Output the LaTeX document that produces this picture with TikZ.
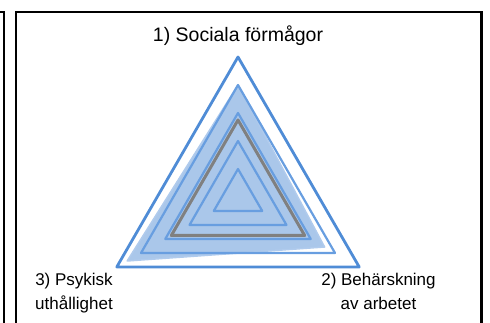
\documentclass[tikz,border=0pt]{standalone}
\usepackage{fontspec}
\setmainfont{Liberation Sans}
\usepackage{tikz}
\usetikzlibrary{calc,positioning}

\definecolor{bleu}{RGB}{79,140,214}
\definecolor{bleuclair}{RGB}{170,199,234}
\definecolor{bleumoyen}{RGB}{104,158,224}
\definecolor{gris}{RGB}{128,128,128}

\begin{document}
\begin{tikzpicture} [x=1pt,y=1pt]
%styles : grille du diagramme, série et étiquettes
\tikzset{grille/.style={bleumoyen,line width=2.2pt,line join=round}}
\tikzset{serie/.style={fill=bleuclair,draw=bleu!45,line width=1.5pt,line join=round}}
\tikzset{etiquette/.style={font=\fontsize{17}{24}\selectfont,align=center,inner sep=0pt,anchor=base}}

\useasboundingbox (0,0) rectangle (490,323);
\clip (0,0) rectangle (490,323);

%cadres
\draw[line width=2.2pt] (-5,311.2) -- (3.8,311.2) -- (3.8,-5);
\draw[line width=2.5pt] (15.8,-5) -- (15.8,311.2) -- (481.5,311.2) -- (481.5,-5);

\coordinate (O) at (238,126);
\begin{scope}[shift={(O)}]
\draw[bleu,line width=2.8pt,line join=round] (90:140) -- (210:140) -- (330:140) -- cycle;
\draw[serie] (90:112) -- (210:128) -- (330:100) -- cycle;
\foreach \r in {28,56,84,112}
  \draw[grille] (90:\r) -- (210:\r) -- (330:\r) -- cycle;
\draw[gris,line width=3pt,line join=round] (90:77) -- (210:77) -- (330:77) -- cycle;
\end{scope}

\node[etiquette,font=\fontsize{19.5}{24}\selectfont] (social) at (238,281) {1) Sociala förmågor};
\node[etiquette] (arbete) at (378.5,13) {2) Behärskning\\av arbetet};
\node[etiquette] (psyke) at (74,13) {3) Psykisk\\uthållighet};
\end{tikzpicture}
\end{document}
